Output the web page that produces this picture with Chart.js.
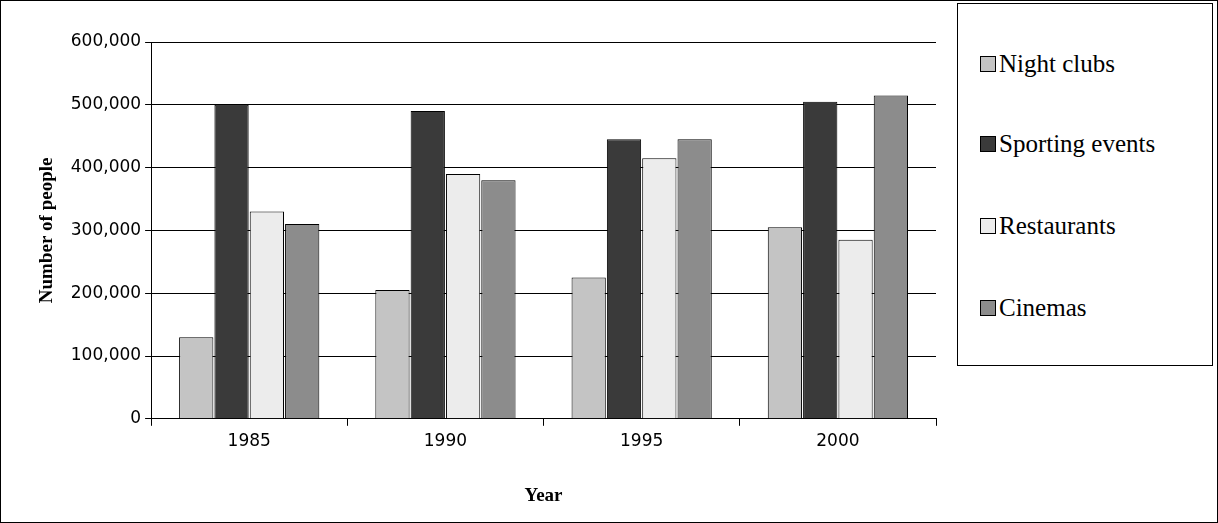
<!DOCTYPE html>
<html><head><meta charset="utf-8">
<script src="https://cdn.jsdelivr.net/npm/chart.js@4"></script>
<style>
html,body{margin:0;padding:0;background:#fff;}
#frame{position:absolute;left:0;top:0;width:1216px;height:521px;border:1px solid #000;}
#wrap{position:absolute;left:0;top:0;width:950px;height:523px;}
#legend{position:absolute;left:957px;top:3px;width:256px;height:363px;border:1px solid #000;box-sizing:border-box;color:#000;}
.li{position:absolute;left:22px;display:flex;align-items:center;font-family:'Liberation Serif','DejaVu Serif',serif;font-size:25px;}
.sw{width:14px;height:14px;border:1px solid #000;margin-right:3px;}
</style></head><body>
<div id="frame"></div>
<div id="wrap"><canvas id="c"></canvas></div>
<div id="legend"></div>
<script>
const categories=["1985","1990","1995","2000"];
const seriesNames=["Night clubs","Sporting events","Restaurants","Cinemas"];
const nightClubs=[130000,205000,225000,305000];
const sportingEvents=[500000,490000,445000,505000];
const restaurants=[330000,390000,415000,285000];
const cinemas=[310000,380000,445000,515000];
const yTicks=[0,100000,200000,300000,400000,500000,600000];
const colors=["#c4c4c4","#3a3a3a","#ececec","#8c8c8c"];
const seriesData=[nightClubs,sportingEvents,restaurants,cinemas];

const lg=document.getElementById('legend');
const tops=[46,126,208,290];
seriesNames.forEach((n,i)=>{const d=document.createElement('div');d.className='li';d.style.top=tops[i]+'px';
d.innerHTML='<span class="sw" style="background:'+colors[i]+'"></span><span>'+n+'</span>';lg.appendChild(d);});

new Chart(document.getElementById('c'),{type:'bar',
data:{labels:categories,datasets:seriesNames.map((n,i)=>({label:n,data:seriesData[i],backgroundColor:colors[i],borderColor:'#000',borderWidth:1,barPercentage:0.97,categoryPercentage:0.72}))},
options:{responsive:true,maintainAspectRatio:false,animation:false,
layout:{padding:{top:42,right:14,bottom:12,left:32}},
plugins:{legend:{display:false},tooltip:{enabled:false}},
scales:{
x:{grid:{display:true,offset:true,color:'#000',drawOnChartArea:false,tickLength:7},border:{color:'#000'},
ticks:{color:'#000',font:{family:'DejaVu Sans',size:17},padding:6},
title:{display:true,text:'Year',color:'#000',font:{family:'Liberation Serif',size:19,weight:'bold'},padding:{top:26}}},
y:{min:0,max:600000,afterBuildTicks:a=>{a.ticks=yTicks.map(v=>({value:v}));},
grid:{color:'#000',tickLength:6},border:{color:'#000'},
ticks:{color:'#000',font:{family:'DejaVu Sans',size:17},callback:v=>v.toLocaleString('en-US'),padding:4},
title:{display:true,text:'Number of people',color:'#000',font:{family:'Liberation Serif',size:19,weight:'bold'},padding:{bottom:8}}}}}});
</script></body></html>
